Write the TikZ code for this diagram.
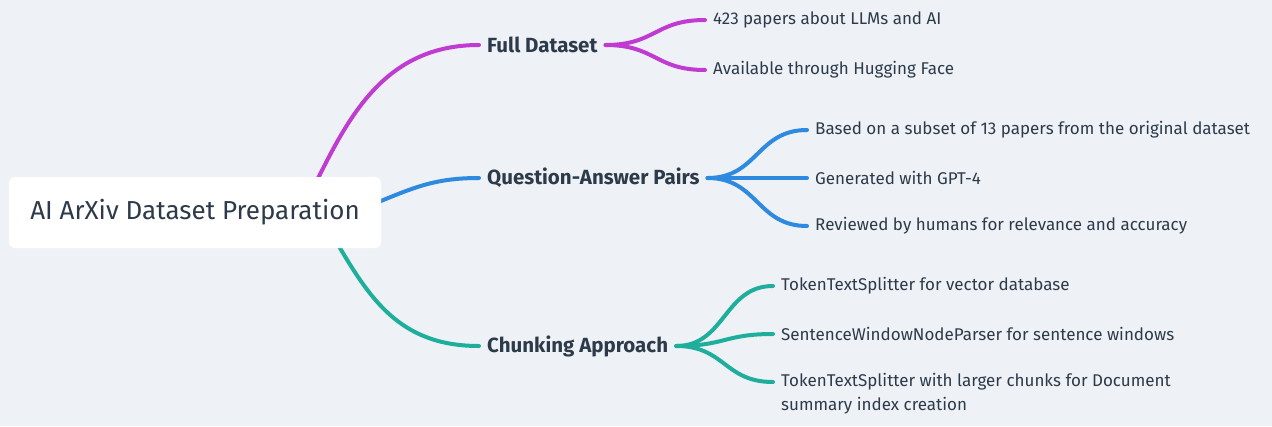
\documentclass[tikz,border=0pt]{standalone}
\usepackage{fontspec}
\setmainfont{Fira Sans}
\usepackage{xcolor}
\usepackage{tikz}
\usetikzlibrary{positioning, calc}
\definecolor{canvas}{HTML}{EEF2F6}
\definecolor{ink}{HTML}{2D3A4A}
\definecolor{magentabranch}{HTML}{C03BD1}
\definecolor{bluebranch}{HTML}{2E8ADF}
\definecolor{tealbranch}{HTML}{1FAE9C}
\pgfdeclarelayer{backdrop}
\pgfdeclarelayer{links}
\pgfsetlayers{backdrop,links,main}

\begin{document}
\begin{tikzpicture}[x=1pt, y=-1pt,
    rootbox/.style={fill=white, rounded corners=6pt, minimum width=372pt,
                    minimum height=71pt, text=ink, font=\fontsize{26}{30}\selectfont},
    topic/.style={anchor=west, inner xsep=8pt, text=ink,
                  font=\bfseries\fontsize{20.5}{24}\selectfont},
    leaf/.style={anchor=west, inner xsep=8pt, text=ink, align=left,
                 font=\fontsize{17}{24}\selectfont},
    branch/.style={line width=4pt, line cap=round}]
  \useasboundingbox (0,0) rectangle (1272,426);
  \begin{pgfonlayer}{backdrop}
    \fill[canvas] (0,0) rectangle (1272,426);
  \end{pgfonlayer}

  % centre and main topics
  \node[rootbox] (root) at (195,212.5) {AI ArXiv Dataset Preparation};
  \node[topic] (full) at (479,45) {Full Dataset};
  \node[topic] (qa) at (479,178) {Question-Answer Pairs};
  \node[topic] (chunk) at (479,346) {Chunking Approach};

  % leaves
  \node[leaf] (full1) at (705,20) {423 papers about LLMs and AI};
  \node[leaf] (full2) at (705,70) {Available through Hugging Face};
  \node[leaf] (qa1) at (807,130) {Based on a subset of 13 papers from the original dataset};
  \node[leaf] (qa2) at (807,178) {Generated with GPT-4};
  \node[leaf] (qa3) at (807,226) {Reviewed by humans for relevance and accuracy};
  \node[leaf] (chunk1) at (773,286) {TokenTextSplitter for vector database};
  \node[leaf] (chunk2) at (773,334) {SentenceWindowNodeParser for sentence windows};
  \node[leaf] (chunk3) at (773,394) {TokenTextSplitter with larger chunks for Document\\summary index creation};

  % branches out of the centre box
  \begin{pgfonlayer}{links}
    \draw[branch, magentabranch] ($(root.center)+(115,-18)$) .. controls +(35,-70) and +(-99,0) .. (full.west);
    \draw[branch, bluebranch] ($(root.center)+(165,-3)$) .. controls +(50,-20) and +(-49,0) .. (qa.west);
    \draw[branch, tealbranch] ($(root.center)+(140,27)$) .. controls +(35,60) and +(-79,0) .. (chunk.west);
  \end{pgfonlayer}

  % branches to the leaves
  \draw[branch, magentabranch] (full.east) .. controls +(50,0) and +(-50,0) .. (full1.west);
  \draw[branch, magentabranch] (full.east) .. controls +(50,0) and +(-50,0) .. (full2.west);
  \draw[branch, bluebranch] (qa.east) .. controls +(50,0) and +(-50,0) .. (qa1.west);
  \draw[branch, bluebranch] (qa.east) -- (qa2.west);
  \draw[branch, bluebranch] (qa.east) .. controls +(50,0) and +(-50,0) .. (qa3.west);
  \draw[branch, tealbranch] (chunk.east) .. controls +(49,0) and +(-49,0) .. (chunk1.west);
  \draw[branch, tealbranch] (chunk.east) .. controls +(49,0) and +(-49,0) .. (chunk2.west);
  \draw[branch, tealbranch] (chunk.east) .. controls +(49,0) and +(-49,0) .. ([yshift=12pt]chunk3.west);
\end{tikzpicture}
\end{document}
